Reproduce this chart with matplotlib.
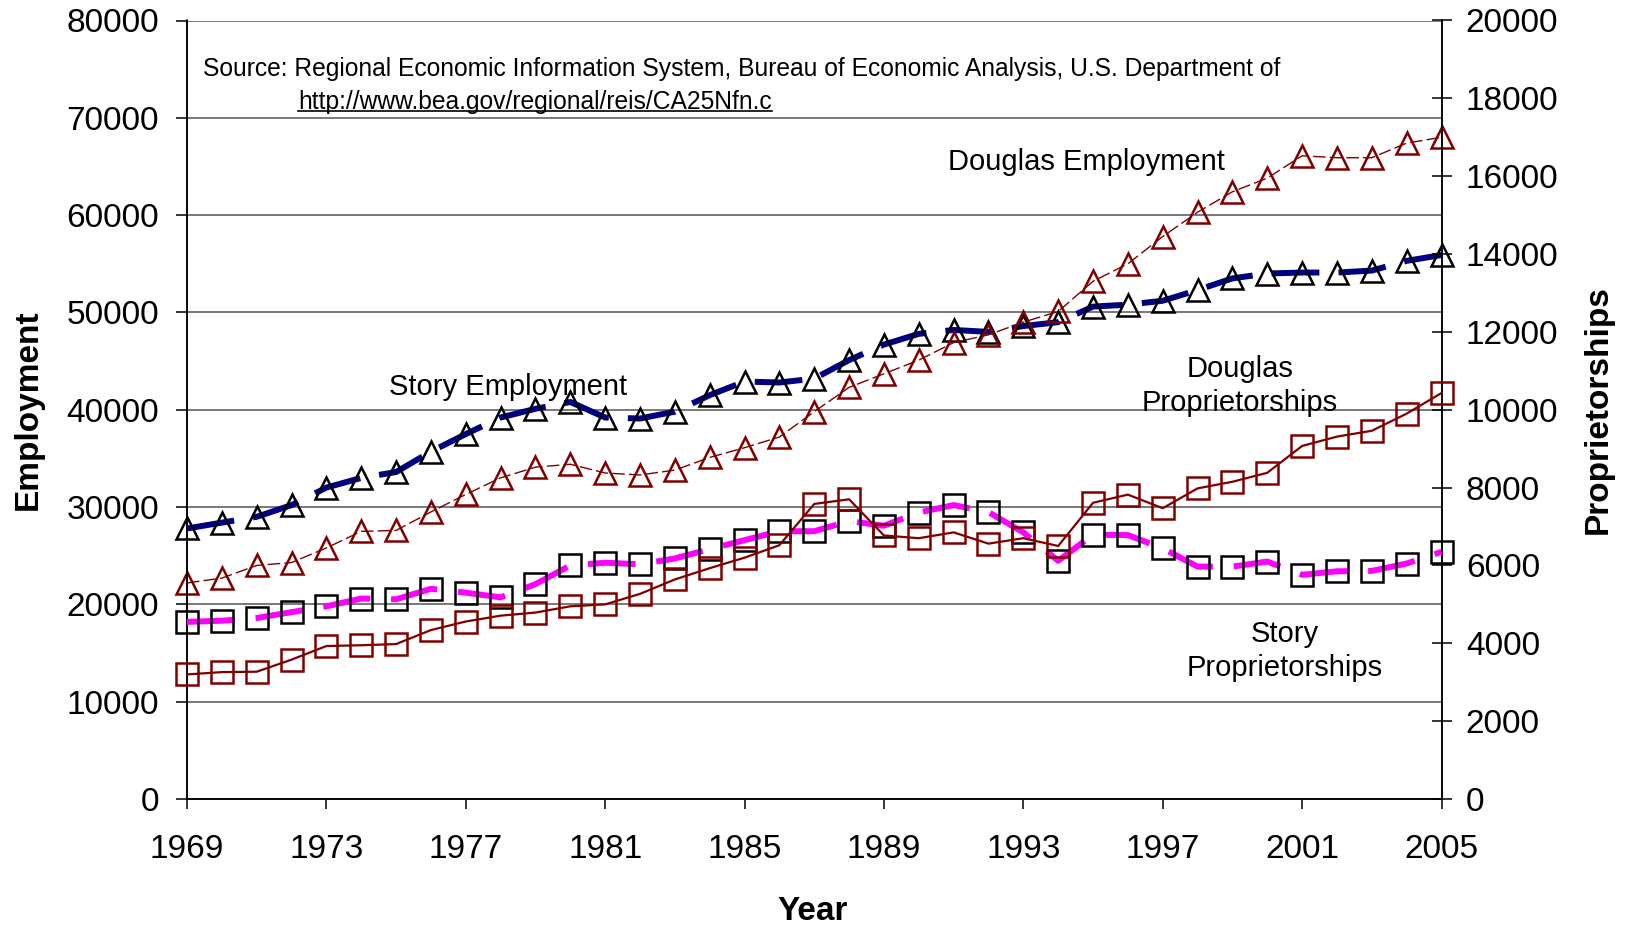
import matplotlib
matplotlib.use("Agg")
import matplotlib.pyplot as plt
from matplotlib import font_manager
from matplotlib.lines import Line2D

plt.rcParams['font.family'] = ['Liberation Sans', 'DejaVu Sans']

years = list(range(1969, 2006))

story_employment = [27800, 28400, 29000, 30200, 32000, 33000, 33600, 35700, 37500, 39200,
                    40100, 40800, 39200, 39100, 39800, 41500, 42900, 42800, 43200, 45100,
                    46700, 47800, 48200, 48000, 48600, 49000, 50600, 50800, 51200, 52300,
                    53500, 54000, 54100, 54100, 54300, 55300, 55900]

douglas_employment = [22200, 22700, 24000, 24300, 25800, 27500, 27600, 29500, 31300, 33000,
                      34100, 34400, 33500, 33300, 33800, 35100, 36100, 37200, 39800, 42300,
                      43700, 45100, 46900, 47700, 49000, 50100, 53200, 55000, 57800, 60300,
                      62400, 63800, 66100, 65900, 65900, 67400, 68000]

story_proprietorships = [4550, 4580, 4650, 4800, 4950, 5150, 5130, 5400, 5300, 5180,
                         5520, 6000, 6070, 6030, 6180, 6420, 6650, 6880, 6880, 7140,
                         7020, 7360, 7550, 7370, 6850, 6120, 6790, 6780, 6440, 5970,
                         5970, 6100, 5760, 5850, 5860, 6050, 6350]

douglas_proprietorships = [3200, 3260, 3270, 3580, 3930, 3950, 3980, 4340, 4560, 4710,
                           4790, 4950, 5000, 5270, 5640, 5930, 6200, 6520, 7580, 7700,
                           6770, 6700, 6850, 6560, 6700, 6500, 7610, 7820, 7470, 7980,
                           8150, 8380, 9070, 9310, 9460, 9900, 10430]

left_ticks = list(range(0, 80001, 10000))
right_ticks = list(range(0, 20001, 2000))
year_ticks = list(range(1969, 2006, 4))

W, H = 1627, 926
fig = plt.figure(figsize=(W / 100, H / 100), dpi=100)
ax = fig.add_axes([187 / W, 1 - 799 / H, (1441.5 - 187) / W, (799 - 20.5) / H])
ax2 = ax.twinx()

NAVY = '#000080'
DRED = '#800000'
MAG = '#FF00FF'

ax.set_xlim(1969, 2005)
ax.set_ylim(0, 80000)
ax2.set_ylim(0, 20000)

for v in left_ticks:
    ax.axhline(v, color='#555555', lw=1.1, zorder=0.5)

ax.plot(years, story_employment, color=NAVY, lw=4.3, linestyle=(0, (8, 3.2)),
        marker='^', ms=16, mfc='none', mec='black', mew=1.8, clip_on=False, zorder=3)
ax.plot(years, douglas_employment, color=DRED, lw=1.0, linestyle=(0, (9, 3)),
        marker='^', ms=16, mfc='none', mec=DRED, mew=1.8, clip_on=False, zorder=3)
ax2.plot(years, story_proprietorships, color=MAG, lw=4.3, linestyle=(0, (8, 3.5)),
         marker='s', ms=15.2, mfc='none', mec='black', mew=1.8, clip_on=False, zorder=3)
ax2.plot(years, douglas_proprietorships, color=DRED, lw=1.6, linestyle='-',
         marker='s', ms=15.2, mfc='none', mec=DRED, mew=1.8, clip_on=False, zorder=4)

ax.set_xticks(year_ticks)
ax.set_xticklabels([str(y) for y in year_ticks])
ax.set_yticks(left_ticks)
ax.set_yticklabels([str(v) for v in left_ticks])
ax2.set_yticks(right_ticks)
ax2.set_yticklabels([str(v) for v in right_ticks])

for a in (ax, ax2):
    a.spines['top'].set_visible(False)
    for s in a.spines.values():
        s.set_color('black')
        s.set_linewidth(1.1)

ax.tick_params(axis='x', direction='out', length=7, width=1.1, pad=18, labelsize=24)
ax.tick_params(axis='y', direction='out', length=8, width=1.1, pad=12, labelsize=24)
ax2.tick_params(axis='y', direction='inout', length=15, width=1.1, pad=10, labelsize=24)

fig.text(28 / W, 1 - 410 / H, 'Employment', rotation=90, fontsize=24, fontweight='bold',
         ha='center', va='center')
fig.text(1598 / W, 1 - 410 / H, 'Proprietorships', rotation=90, fontsize=24, fontweight='bold',
         ha='center', va='center')
fig.text(813 / W, 1 - 911 / H, 'Year', fontsize=24, fontweight='bold', ha='center', va='center')

fig.text(508 / W, 1 - 387 / H, 'Story Employment', fontsize=21, ha='center', va='center')
fig.text(1086 / W, 1 - 162 / H, 'Douglas Employment', fontsize=21, ha='center', va='center')
fig.text(1240 / W, 1 - 386 / H, 'Douglas\nProprietorships', fontsize=21, ha='center',
         va='center', linespacing=1.27)
fig.text(1285 / W, 1 - 651 / H, 'Story\nProprietorships', fontsize=21, ha='center',
         va='center', linespacing=1.3)

names = {f.name for f in font_manager.fontManager.ttflist}
src_family = 'Liberation Sans Narrow' if 'Liberation Sans Narrow' in names else 'Liberation Sans'

src = fig.text(203 / W, 1 - 69 / H,
               'Source: Regional Economic Information System, Bureau of Economic Analysis, U.S. Department of',
               fontsize=19, family=src_family, ha='left', va='center')
url = fig.text(298 / W, 1 - 102 / H, 'http://www.bea.gov/regional/reis/CA25Nfn.c',
               fontsize=19, family=src_family, ha='left', va='center')

fig.canvas.draw()
r = fig.canvas.get_renderer()
w = src.get_window_extent(r).width
scale = 1079 / w
src.set_fontsize(19 * scale)
url.set_fontsize(19 * scale)
fig.canvas.draw()
bb = url.get_window_extent(r)
yl = bb.y0 + 0.13 * bb.height
fig.add_artist(Line2D([bb.x0 / W, bb.x1 / W], [yl / H, yl / H], color='black', lw=1.2,
                      transform=fig.transFigure))

fig.savefig('out.png', dpi=100)
